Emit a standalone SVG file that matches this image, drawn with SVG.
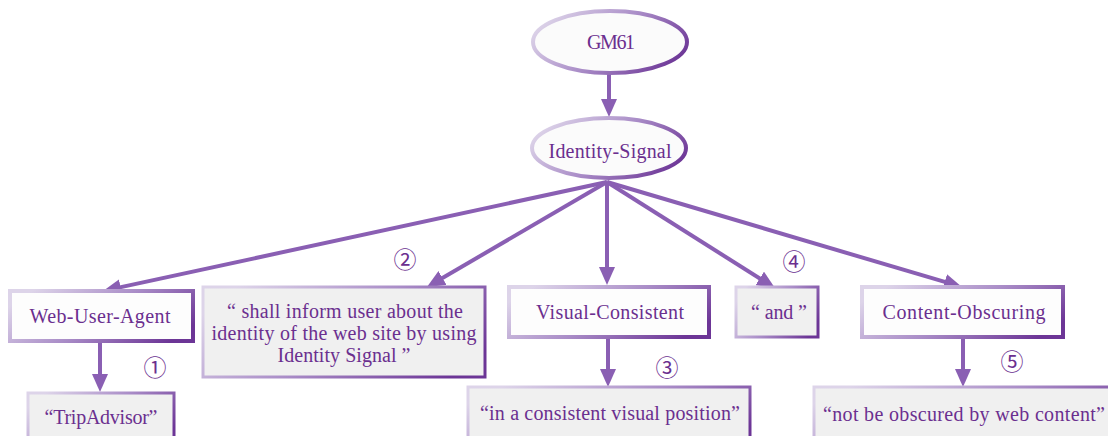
<svg xmlns="http://www.w3.org/2000/svg" width="1108" height="436" viewBox="0 0 1108 436">
  <style>
    .lbl { font-family: "Liberation Serif", "DejaVu Serif", serif; font-size: 20px; fill: #6b2f8f; text-anchor: middle; }
    .num { font-family: "Noto Sans CJK JP", "DejaVu Sans", sans-serif; font-size: 23px; font-weight: 400; fill: #6b2f8f; text-anchor: middle; }
    .oval { fill: #fbfbfb; stroke: url(#edgeGrad); stroke-width: 4; }
    .term { fill: #fdfdfd; stroke: url(#edgeGrad); stroke-width: 4; }
    .quote { fill: #f0f0f0; stroke: url(#edgeGrad); stroke-width: 3; }
    .link { stroke: #8a5fb3; stroke-width: 4; fill: none; marker-end: url(#head); }
  </style>
  <defs>
    <linearGradient id="edgeGrad" x1="0" y1="0.3" x2="1" y2="0.7">
      <stop offset="0" stop-color="#ddd4e9"/>
      <stop offset="0.5" stop-color="#a98cc7"/>
      <stop offset="1" stop-color="#6c3596"/>
    </linearGradient>
    <marker id="head" markerUnits="userSpaceOnUse" markerWidth="18" markerHeight="16" refX="8" refY="8" orient="auto">
      <path d="M0,0 L18,8 L0,16 z" fill="#8a5fb3"/>
    </marker>
  </defs>

  <!-- connectors -->
  <g id="connectors">
    <line class="link" x1="609" y1="73" x2="609" y2="107"/>
    <line class="link" x1="607" y1="182" x2="112.8" y2="288.9"/>
    <line class="link" x1="607" y1="182" x2="435.6" y2="282"/>
    <line class="link" x1="607" y1="182" x2="607" y2="275"/>
    <line class="link" x1="607" y1="182" x2="766.5" y2="282.7"/>
    <line class="link" x1="607" y1="182" x2="952.4" y2="284.2"/>
    <line class="link" x1="100" y1="341" x2="100" y2="382"/>
    <line class="link" x1="608" y1="337" x2="608" y2="377"/>
    <line class="link" x1="963" y1="337" x2="963" y2="377"/>
  </g>

  <!-- nodes -->
  <g id="gm61">
    <ellipse class="oval" cx="610" cy="42" rx="77" ry="31"/>
    <text class="lbl" x="611" y="49" textLength="48">GM61</text>
  </g>
  <g id="identity-signal">
    <ellipse class="oval" cx="609" cy="148" rx="77" ry="30"/>
    <text class="lbl" x="610" y="158" textLength="123">Identity-Signal</text>
  </g>
  <g id="web-user-agent">
    <rect class="term" x="10" y="291" width="183" height="50"/>
    <text class="lbl" x="100" y="323" textLength="141">Web-User-Agent</text>
  </g>
  <g id="tripadvisor">
    <rect class="quote" x="28" y="393" width="146" height="50"/>
    <text class="lbl" x="101" y="424" textLength="113">“TripAdvisor”</text>
  </g>
  <g id="shall-inform">
    <rect class="quote" x="203" y="287" width="282" height="90"/>
    <text class="lbl" x="345" y="318" textLength="236">“ shall inform user about the</text>
    <text class="lbl" x="344" y="340" textLength="265">identity of the web site by using</text>
    <text class="lbl" x="344" y="362" textLength="133">Identity Signal ”</text>
  </g>
  <g id="visual-consistent">
    <rect class="term" x="509" y="287" width="200" height="50"/>
    <text class="lbl" x="610" y="319" textLength="148">Visual-Consistent</text>
  </g>
  <g id="visual-position">
    <rect class="quote" x="468" y="387" width="282" height="56"/>
    <text class="lbl" x="610" y="420" textLength="260">“in a consistent visual position”</text>
  </g>
  <g id="and">
    <rect class="quote" x="736" y="287" width="82" height="50"/>
    <text class="lbl" x="779" y="319" textLength="56">“ and ”</text>
  </g>
  <g id="content-obscuring">
    <rect class="term" x="862" y="287" width="201" height="50"/>
    <text class="lbl" x="964" y="319" textLength="163">Content-Obscuring</text>
  </g>
  <g id="not-obscured">
    <rect class="quote" x="814" y="387" width="300" height="56"/>
    <text class="lbl" x="964" y="421" textLength="282">“not be obscured by web content”</text>
  </g>

  <!-- step numbers -->
  <g id="steps">
    <text class="num" x="155" y="376">①</text>
    <text class="num" x="405" y="268">②</text>
    <text class="num" x="667" y="376">③</text>
    <text class="num" x="794" y="270">④</text>
    <text class="num" x="1012" y="370">⑤</text>
  </g>
</svg>
